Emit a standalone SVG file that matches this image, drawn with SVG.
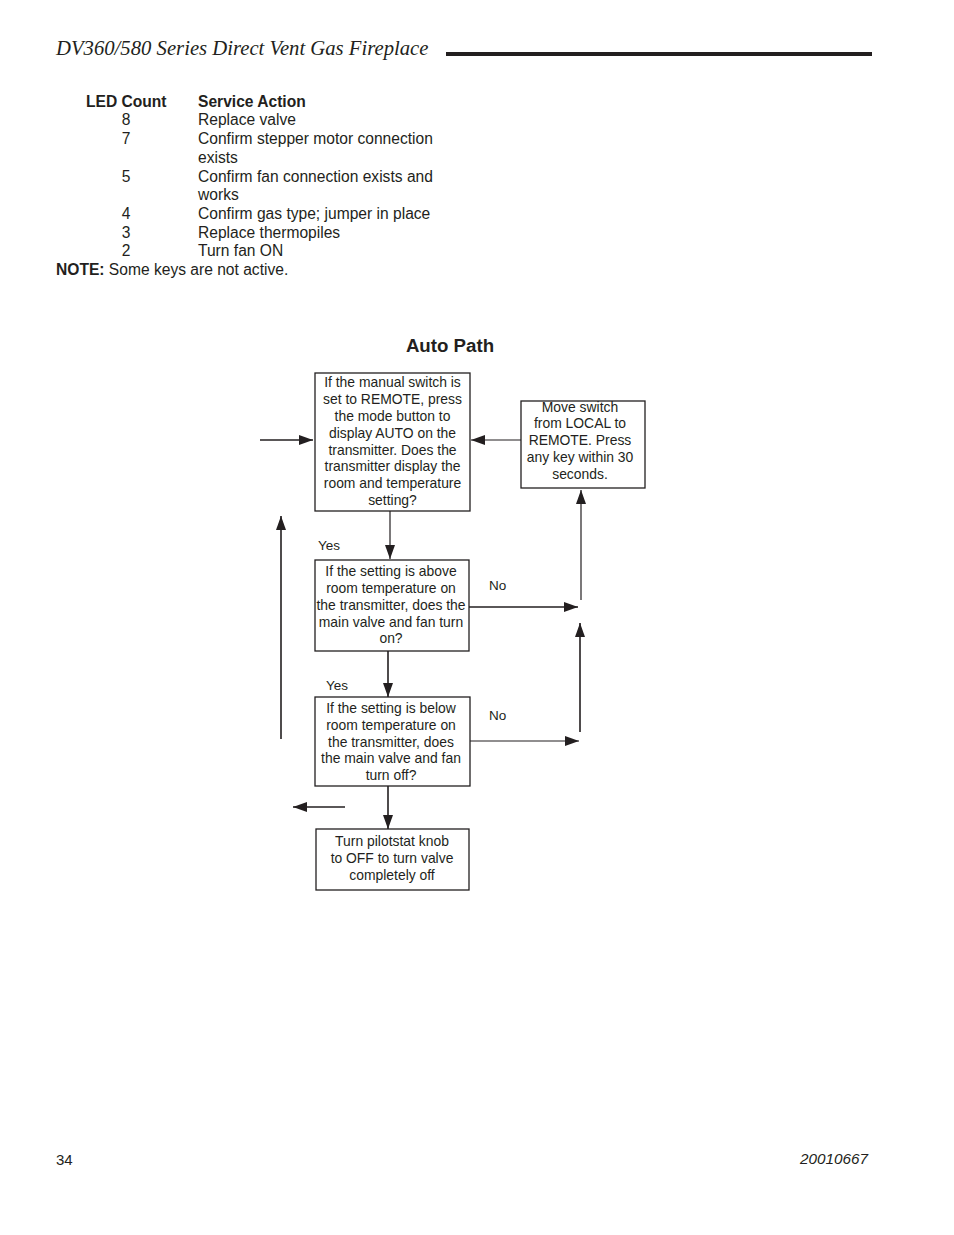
<svg xmlns="http://www.w3.org/2000/svg" width="954" height="1235" viewBox="0 0 954 1235">
<style>
.t{font-family:"Liberation Sans",Arial,sans-serif;fill:#231f20}
.tb{font-size:15.6px}
.b{font-weight:bold}
.f{font-size:13.9px;text-anchor:middle}
.l{font-size:13.5px}
.box{fill:#fff;stroke:#231f20;stroke-width:1.3}
.c{stroke:#231f20;stroke-width:1.6;fill:none}
.c2{stroke:#231f20;stroke-width:1.2;fill:none}
</style>
<defs>
<marker id="ah" viewBox="0 0 14 10" refX="14" refY="5" markerWidth="14" markerHeight="10" markerUnits="userSpaceOnUse" orient="auto">
<path d="M0,0 L14,5 L0,10 Z" fill="#231f20"/>
</marker>
</defs>
<rect width="954" height="1235" fill="#fff"/>
<g id="header">
<text x="56" y="55" style="font-family:'Liberation Serif','Times New Roman',serif;font-style:italic;font-size:20.7px;fill:#231f20">DV360/580 Series Direct Vent Gas Fireplace</text>
<rect x="446" y="52" width="426" height="4" fill="#231f20"/>
</g>
<g id="table" class="t tb">
<text x="86" y="107" class="b">LED Count</text>
<text x="198" y="107" class="b">Service Action</text>
<text x="126" y="125" text-anchor="middle">8</text><text x="198" y="125">Replace valve</text>
<text x="126" y="144" text-anchor="middle">7</text><text x="198" y="144">Confirm stepper motor connection</text>
<text x="198" y="163">exists</text>
<text x="126" y="182" text-anchor="middle">5</text><text x="198" y="182">Confirm fan connection exists and</text>
<text x="198" y="200">works</text>
<text x="126" y="219" text-anchor="middle">4</text><text x="198" y="219">Confirm gas type; jumper in place</text>
<text x="126" y="238" text-anchor="middle">3</text><text x="198" y="238">Replace thermopiles</text>
<text x="126" y="256" text-anchor="middle">2</text><text x="198" y="256">Turn fan ON</text>
<text x="56" y="275"><tspan class="b">NOTE:</tspan> Some keys are not active.</text>
</g>
<text id="title" class="t b" x="450" y="352" text-anchor="middle" font-size="18.7">Auto Path</text>
<g id="connectors">
<line class="c" x1="260" y1="440" x2="313" y2="440" marker-end="url(#ah)"/>
<line class="c2" x1="521" y1="440" x2="471" y2="440" marker-end="url(#ah)"/>
<line class="c2" x1="390" y1="511" x2="390" y2="559" marker-end="url(#ah)"/>
<line class="c" x1="469" y1="607" x2="578" y2="607" marker-end="url(#ah)"/>
<line class="c2" x1="581" y1="600" x2="581" y2="490" marker-end="url(#ah)"/>
<line class="c" x1="388" y1="651" x2="388" y2="697" marker-end="url(#ah)"/>
<line class="c2" x1="470" y1="741" x2="579" y2="741" marker-end="url(#ah)"/>
<line class="c" x1="580" y1="732" x2="580" y2="623" marker-end="url(#ah)"/>
<line class="c" x1="281" y1="739" x2="281" y2="516" marker-end="url(#ah)"/>
<line class="c" x1="388" y1="786" x2="388" y2="829" marker-end="url(#ah)"/>
<line class="c" x1="345" y1="807" x2="293" y2="807" marker-end="url(#ah)"/>
<text class="t l" x="318" y="550">Yes</text>
<text class="t l" x="489" y="590">No</text>
<text class="t l" x="326" y="690">Yes</text>
<text class="t l" x="489" y="720">No</text>
</g>
<g id="n1">
<rect class="box" x="315" y="373" width="155" height="138"/>
<text class="t f" x="392.5" y="387">If the manual switch is</text>
<text class="t f" x="392.5" y="404">set to REMOTE, press</text>
<text class="t f" x="392.5" y="421">the mode button to</text>
<text class="t f" x="392.5" y="438">display AUTO on the</text>
<text class="t f" x="392.5" y="455">transmitter. Does the</text>
<text class="t f" x="392.5" y="471">transmitter display the</text>
<text class="t f" x="392.5" y="488">room and temperature</text>
<text class="t f" x="392.5" y="505">setting?</text>
</g>
<g id="n2">
<rect class="box" x="521" y="401" width="124" height="87"/>
<text class="t f" x="580" y="412">Move switch</text>
<text class="t f" x="580" y="428">from LOCAL to</text>
<text class="t f" x="580" y="445">REMOTE. Press</text>
<text class="t f" x="580" y="462">any key within 30</text>
<text class="t f" x="580" y="479">seconds.</text>
</g>
<g id="n3">
<rect class="box" x="315" y="560" width="154" height="91"/>
<text class="t f" x="391" y="576">If the setting is above</text>
<text class="t f" x="391" y="593">room temperature on</text>
<text class="t f" x="391" y="610">the transmitter, does the</text>
<text class="t f" x="391" y="627">main valve and fan turn</text>
<text class="t f" x="391" y="643">on?</text>
</g>
<g id="n4">
<rect class="box" x="315" y="697" width="155" height="89"/>
<text class="t f" x="391" y="713">If the setting is below</text>
<text class="t f" x="391" y="730">room temperature on</text>
<text class="t f" x="391" y="747">the transmitter, does</text>
<text class="t f" x="391" y="763">the main valve and fan</text>
<text class="t f" x="391" y="780">turn off?</text>
</g>
<g id="n5">
<rect class="box" x="316" y="829" width="153" height="61"/>
<text class="t f" x="392" y="846">Turn pilotstat knob</text>
<text class="t f" x="392" y="863">to OFF to turn valve</text>
<text class="t f" x="392" y="880">completely off</text>
</g>
<g id="footer" class="t">
<text x="56" y="1165" font-size="15">34</text>
<text x="868" y="1164" font-size="15.3" font-style="italic" text-anchor="end">20010667</text>
</g>
</svg>
